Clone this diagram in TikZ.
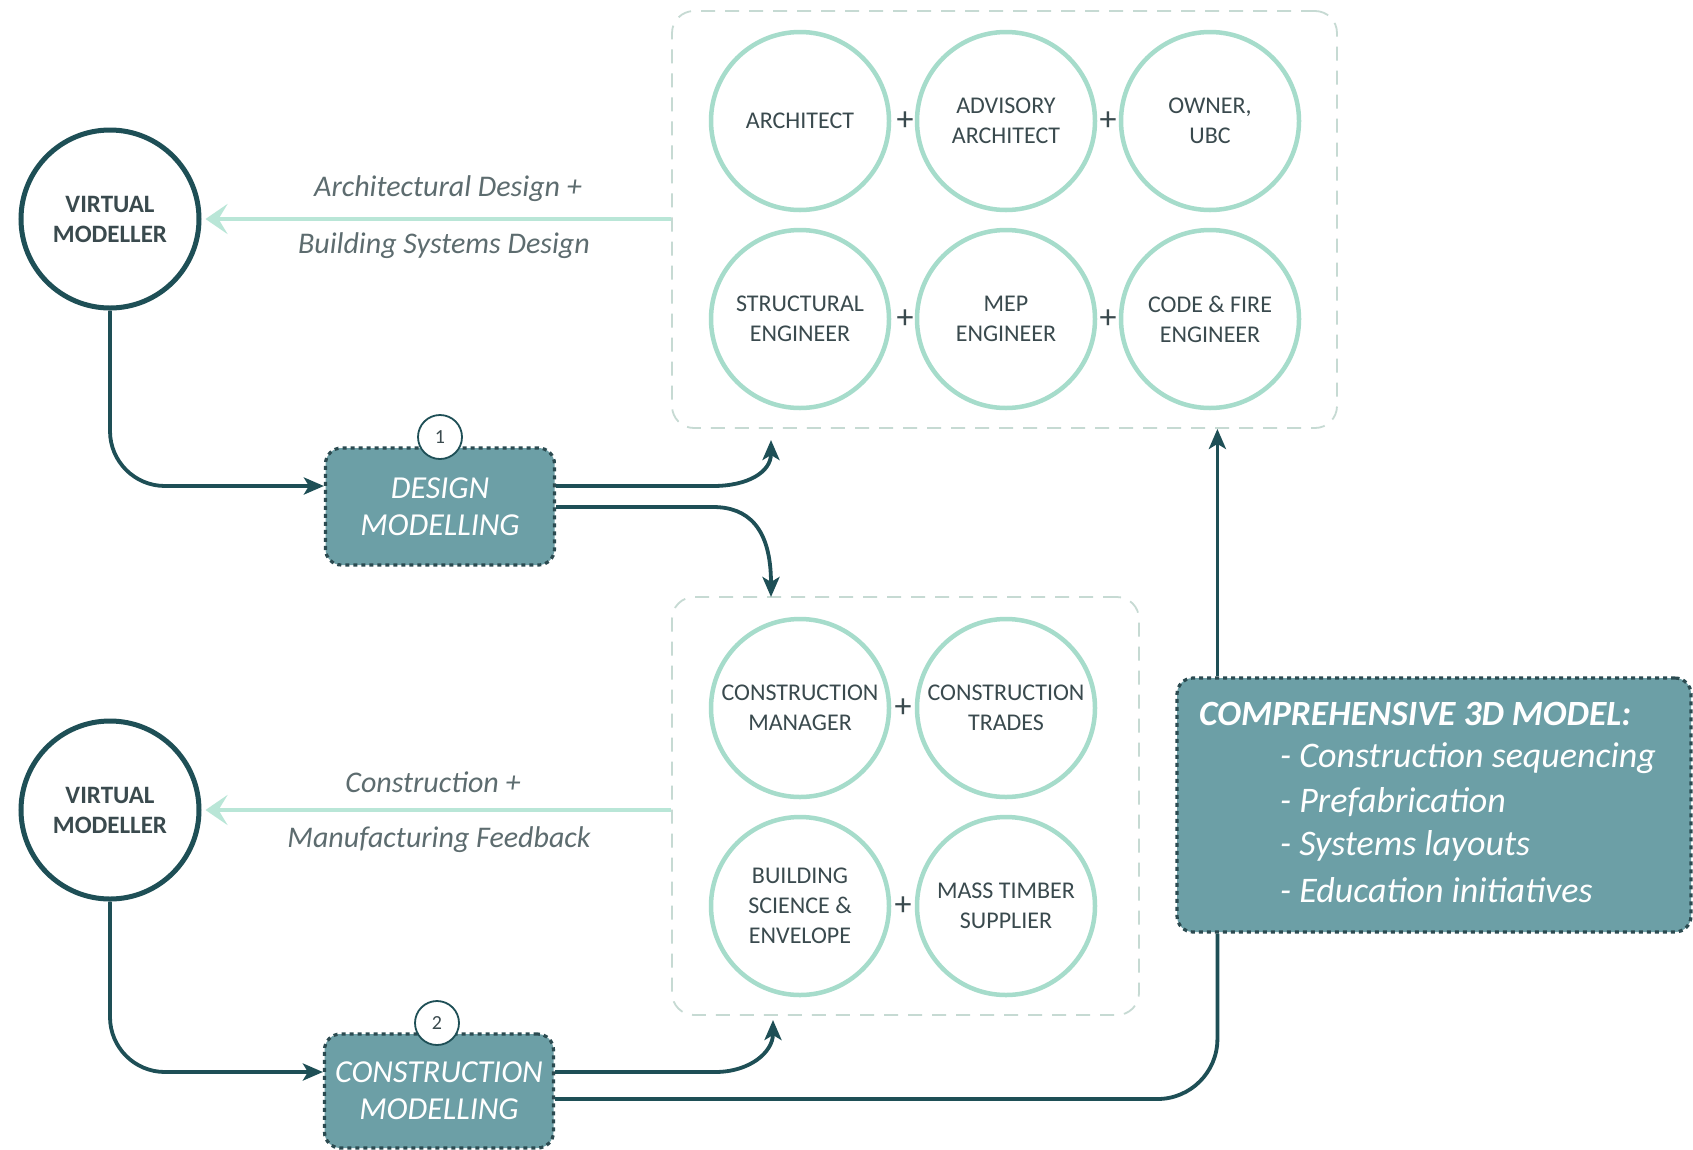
\documentclass[tikz,border=0pt]{standalone}
\usepackage{fontspec}
\setmainfont{Carlito}
\usetikzlibrary{arrows.meta,calc}
\definecolor{dk}{HTML}{1E4F56}
\definecolor{tealfill}{HTML}{6C9FA6}
\definecolor{boxborder}{HTML}{2B4A50}
\definecolor{lgreen}{HTML}{A6DCCB}
\definecolor{larrow}{HTML}{B9E6D7}
\definecolor{dashbox}{HTML}{C6DAD3}
\definecolor{txt}{HTML}{3A4A4E}
\definecolor{labtxt}{HTML}{5D6C6F}
\tikzset{
  member/.style={circle, draw=lgreen, line width=4.5pt, minimum size=178pt, inner sep=0pt, align=center, text=txt, font=\fontsize{24}{30}\selectfont},
  vmod/.style={circle, draw=dk, line width=5pt, minimum size=178pt, inner sep=0pt, align=center, text=txt, font=\fontsize{25}{30}\selectfont\bfseries, fill=white},
  group/.style={draw=dashbox, line width=1.8pt, dash pattern=on 14pt off 10pt, rounded corners=22pt, minimum width=#1},
  phase/.style={fill=tealfill, draw=boxborder, line width=3.2pt, dash pattern=on 4pt off 4pt, rounded corners=16pt, minimum width=229pt, align=center, text=white, font=\fontsize{32}{37}\selectfont\itshape},
  numc/.style={circle, draw=dk, line width=1.8pt, fill=white, minimum size=44pt, inner sep=0pt, text=txt, font=\fontsize{20}{20}\selectfont},
  plus/.style={text=txt, font=\fontsize{34}{34}\selectfont, inner sep=0pt},
  flowlab/.style={text=labtxt, font=\fontsize{30}{30}\selectfont\itshape},
  dline/.style={draw=dk, line width=3.8pt},
  darr/.style={dline, -{Stealth[length=20pt,width=17pt,inset=5pt]}},
  larr/.style={draw=larrow, line width=4pt, -{Stealth[length=22pt,width=30pt,inset=9pt]}},
  comptxt/.style={text=white, font=\fontsize{36}{36}\selectfont\itshape, inner sep=0pt, anchor=west}
}
\begin{document}
\begin{tikzpicture}[x=1pt,y=-1pt]
\useasboundingbox[fill=white] (0,0) rectangle (1693,1149);

% groups
\node[group=665pt, minimum height=417pt] (topbox) at (1004.5,219.5) {};
\node[group=467pt, minimum height=418pt] (botbox) at (905.5,806) {};

% top members
\node[member] (arch) at (800,121) {ARCHITECT};
\node[member] (adv) at (1006,121) {ADVISORY\\ARCHITECT};
\node[member] (own) at (1210,121) {OWNER,\\UBC};
\node[member] (str) at (800,319) {STRUCTURAL\\ENGINEER};
\node[member] (mep) at (1006,319) {MEP\\ENGINEER};
\node[member] (code) at (1210,319) {CODE \& FIRE\\ENGINEER};
\node[plus] (p1) at (905,121) {+};
\node[plus] (p2) at (1108,121) {+};
\node[plus] (p3) at (905,319) {+};
\node[plus] (p4) at (1108,319) {+};

% bottom members
\node[member] (cman) at (800,708) {CONSTRUCTION\\MANAGER};
\node[member] (ctr) at (1006,708) {CONSTRUCTION\\TRADES};
\node[member] (bse) at (800,906) {BUILDING\\SCIENCE \&\\ENVELOPE};
\node[member] (mts) at (1006,906) {MASS TIMBER\\SUPPLIER};
\node[plus] (p5) at (903,708) {+};
\node[plus] (p6) at (903,906) {+};

% virtual modellers
\node[vmod] (vm1) at (110,219) {VIRTUAL\\MODELLER};
\node[vmod] (vm2) at (110,810) {VIRTUAL\\MODELLER};

% phases
\node[phase, minimum height=117pt] (dm) at (440,506.5) {DESIGN\\MODELLING};
\node[phase, minimum height=114pt] (cmod) at (439,1091) {CONSTRUCTION\\MODELLING};
\node[numc] (n1) at (440,437) {1};
\node[numc] (n2) at (437,1023) {2};

% comprehensive model
\node[fill=tealfill, draw=boxborder, line width=3.2pt, dash pattern=on 4pt off 4pt, rounded corners=16pt, minimum width=514pt, minimum height=254pt] (comp) at (1434,805) {};
\node[comptxt, font=\fontsize{35.5}{36}\selectfont\bfseries\itshape] (ct0) at (1199,714) {COMPREHENSIVE 3D MODEL:};
\node[comptxt] (ct1) at (1280,758) {- Construction sequencing};
\node[comptxt] (ct2) at (1280,802) {- Prefabrication};
\node[comptxt] (ct3) at (1280,846) {- Systems layouts};
\node[comptxt] (ct4) at (1280,890) {- Education initiatives};

% feedback arrows
\draw[larr, shorten >=4pt] (vm1 -| topbox.west) -- (vm1.east);
\draw[larr, shorten >=4pt] (vm2 -| botbox.west) -- (vm2.east);
\node[flowlab] (l1) at (448,189) {Architectural Design +};
\node[flowlab] (l2) at (444,246) {Building Systems Design};
\node[flowlab] (l3) at (433,782) {Construction +};
\node[flowlab] (l4) at (439,840) {Manufacturing Feedback};

% connectors
\draw[darr, rounded corners=55pt] (vm1.south) |- ($(dm.west)+(0,-20.5)$);
\draw[darr, rounded corners=55pt] (vm2.south) |- ($(cmod.west)+(0,-19)$);

\coordinate (tA) at (771,440);
\coordinate (tB) at (771,597);
\coordinate (tC) at (773,1020);
\draw[darr] ($(dm.east)+(0,-20.5)$) -- (713,486) .. controls (748,486) and (771,472) .. (tA);
\draw[darr] ($(dm.east)+(0,0.5)$) -- (713,507) .. controls (748,507) and (771,528) .. (tB);
\draw[darr] ($(cmod.east)+(0,-19)$) -- (715,1072) .. controls (750,1072) and (773,1052) .. (tC);
\draw[dline, rounded corners=60pt] ($(cmod.east)+(0,8)$) -| ($(comp.south west)+(42,0)$);
\coordinate (cu) at ($(comp.north west)+(42,0)$);
\draw[darr] (cu) -- (cu |- topbox.south);
\end{tikzpicture}
\end{document}
